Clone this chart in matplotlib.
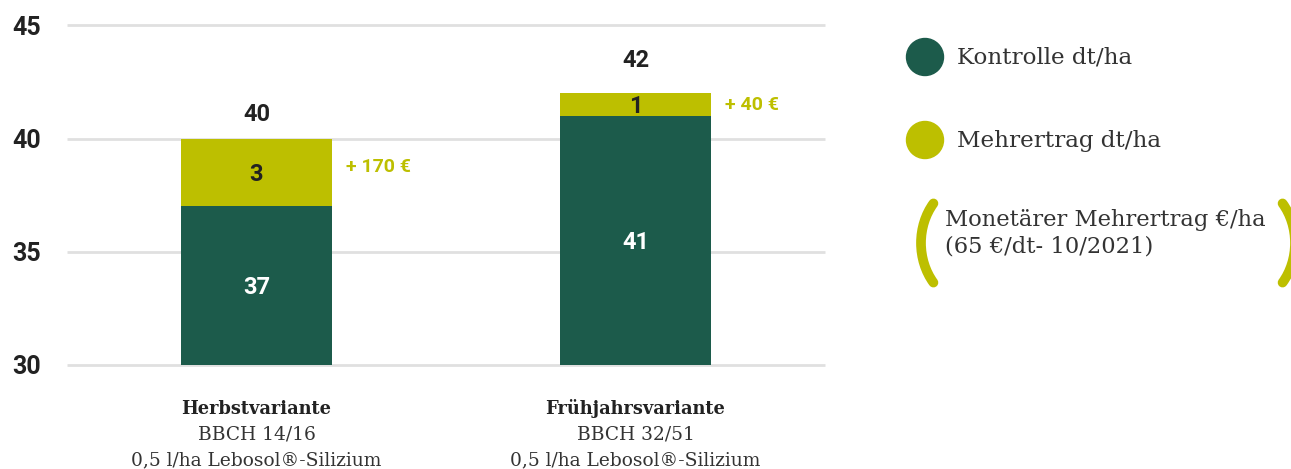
import matplotlib.pyplot as plt
from matplotlib.patches import Circle, Arc

# -----------------------------
# DATA
# -----------------------------

variants = ["Herbstvariante", "Frühjahrsvariante"]
stages = ["BBCH 14/16", "BBCH 32/51"]
dosage = ["0,5 l/ha Lebosol®-Silizium", "0,5 l/ha Lebosol®-Silizium"]

kontrolle = [37, 41]
mehrertrag = [3, 1]
euro_labels = ["+ 170 €", "+ 40 €"]

legend_labels = ["Kontrolle dt/ha", "Mehrertrag dt/ha"]
money_label = "Monetärer Mehrertrag €/ha\n(65 €/dt- 10/2021)"

# -----------------------------
# STYLE
# -----------------------------

dark_green = "#1c5b4b"
lime = "#bdbf00"
text_dark = "#222222"
grid_grey = "#e0e0e0"

total_offset = [1.05, 1.45]   # gap between bar top and total label
euro_shift = [0.25, 0.0]      # vertical nudge for the euro labels

W, H = 1291, 469
fig = plt.figure(figsize=(W / 100, H / 100), dpi=100)

ax = fig.add_axes([67 / W, 1 - 364.7 / H, (825 - 67) / W, (364.7 - 25.5) / H])

x = list(range(len(variants)))
totals = [k + m for k, m in zip(kontrolle, mehrertrag)]

ax.bar(x, kontrolle, width=0.4, color=dark_green, zorder=3)
ax.bar(x, mehrertrag, bottom=kontrolle, width=0.4, color=lime, zorder=3)

ax.set_xlim(-0.5, 1.5)
ax.set_ylim(30, 45)
ax.set_yticks([30, 35, 40, 45])
ax.grid(axis="y", color=grid_grey, linewidth=2)
for gl in ax.get_ygridlines():
    gl.set_clip_on(False)
    gl.set_solid_capstyle("butt")
ax.set_axisbelow(True)
for s in ax.spines.values():
    s.set_visible(False)
ax.tick_params(axis="y", length=0, pad=29, labelsize=18, labelcolor=text_dark)
for lbl in ax.get_yticklabels():
    lbl.set_fontweight("bold")
    lbl.set_family("Roboto")
    lbl.set_horizontalalignment("center")
ax.set_xticks([])

num_font = dict(family="Roboto", fontweight="bold", fontsize=17, ha="center", va="center")

for i in x:
    # value inside dark segment
    ax.text(i, (30 + kontrolle[i]) / 2 - 0.1, str(kontrolle[i]), color="white", **num_font)
    # value inside lime segment
    ax.text(i, kontrolle[i] + mehrertrag[i] / 2 - 0.08, str(mehrertrag[i]), color=text_dark, **num_font)
    # total above bar
    ax.text(i, totals[i] + total_offset[i], str(totals[i]), color=text_dark, **num_font)
    # euro label to the right
    ax.text(i + 0.237, kontrolle[i] + mehrertrag[i] / 2 + euro_shift[i], euro_labels[i], color=lime,
            family="Roboto", fontweight="bold", fontsize=14, ha="left", va="center")
    # category labels below
    ax.text(i, 28.05, variants[i], color=text_dark, family="DejaVu Serif",
            fontweight="bold", fontsize=12.8, ha="center", va="center")
    ax.text(i, 26.9, stages[i], color="#333333", family="DejaVu Serif",
            fontsize=13.4, ha="center", va="center")
    ax.text(i, 25.75, dosage[i], color="#333333", family="DejaVu Serif",
            fontsize=13.4, ha="center", va="center")

# -----------------------------
# LEGEND (pixel overlay)
# -----------------------------

ov = fig.add_axes([0, 0, 1, 1])
ov.set_xlim(0, W)
ov.set_ylim(H, 0)
ov.axis("off")

legend_colors = [dark_green, lime]
legend_y = [57, 140]
for lab, col, yy in zip(legend_labels, legend_colors, legend_y):
    ov.add_patch(Circle((925, yy), 18.5, color=col))
    ov.text(957, yy + 1, lab, color="#333333", family="DejaVu Serif",
            fontsize=16.6, ha="left", va="center")

ov.text(945, 233, money_label, color="#333333", family="DejaVu Serif",
        fontsize=16.3, ha="left", va="center", linespacing=1.25)

# parentheses
ov.add_patch(Arc((973, 243), 104, 122, theta1=135, theta2=225, color=lime,
                 linewidth=7, capstyle="round"))
ov.add_patch(Arc((1243, 243), 104, 122, theta1=-45, theta2=45, color=lime,
                 linewidth=7, capstyle="round"))

plt.savefig("out.png", dpi=100)
